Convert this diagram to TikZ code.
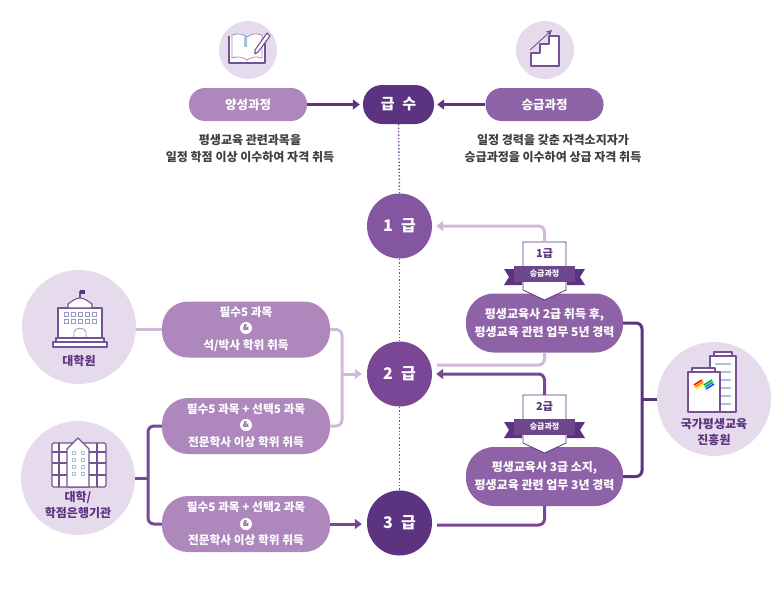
\documentclass[tikz,border=0pt]{standalone}
\usepackage{fontspec}
\setmainfont{Noto Sans CJK KR}
\newfontfamily\gradefont[WordSpace = 2.2]{Noto Sans CJK KR}
\usetikzlibrary{arrows.meta}
\definecolor{palecircle}{HTML}{E6DBEC}
\definecolor{softpill}{HTML}{AE87BC}
\definecolor{midpill}{HTML}{8E62A6}
\definecolor{gradeone}{HTML}{8455A0}
\definecolor{gradetwo}{HTML}{7A4796}
\definecolor{deeppurple}{HTML}{5C3380}
\definecolor{lightline}{HTML}{D2B9DC}
\definecolor{iconblue}{HTML}{A9C3DE}
\tikzset{
    softpillnode/.style = {fill = softpill, text = white, rounded corners = 26pt, minimum width = 168pt, minimum height = 56pt, inner sep = 0pt, align = center, font = \fontsize{11.7}{16.6}\bfseries\selectfont},
    topnode/.style = {fill = softpill, text = white, rounded corners = 16pt, minimum width = 118pt, minimum height = 33pt, inner sep = 0pt, font = \fontsize{12.5}{14}\bfseries\selectfont},
    careernode/.style = {fill = midpill, text = white, rounded corners = 28pt, minimum width = 157pt, minimum height = 59pt, inner sep = 0pt, align = center, font = \fontsize{12}{18}\bfseries\selectfont},
    gradenode/.style = {circle, text = white, minimum size = 65pt, inner sep = 0pt, font = \gradefont\fontsize{16}{18}\bfseries\selectfont},
    palenode/.style = {circle, fill = palecircle, inner sep = 0pt},
    bodytext/.style = {text = black!75, align = center, inner sep = 0pt, font = \fontsize{12}{17}\bfseries\selectfont},
    placetext/.style = {text = deeppurple, align = center, inner sep = 0pt, font = \fontsize{12}{16}\bfseries\selectfont},
    ampnode/.style = {circle, fill = white, text = softpill!60!deeppurple, minimum size = 12pt, inner sep = 0pt, font = \fontsize{8}{8}\bfseries\selectfont},
    badgetext/.style = {text = deeppurple, minimum width = 43pt, minimum height = 24pt, inner sep = 0pt, font = \fontsize{11}{12}\bfseries\selectfont},
    ribbonnode/.style = {fill = deeppurple!90!white, text = white, minimum width = 61pt, minimum height = 16pt, inner sep = 0pt, font = \fontsize{8}{9}\bfseries\selectfont},
    link/.style = {line width = 3pt, rounded corners = 6pt},
    linkarrow/.style = {link, -{Triangle[length = 7pt, width = 10pt]}},
    iconline/.style = {draw = deeppurple!85!white, line width = 1.1pt, line join = round}
}
\begin{document}
\begin{tikzpicture}[x = 1pt, y = -1pt]
    \useasboundingbox (0, 0) rectangle (783, 594);

    \node (iconBook) at (248, 50) [palenode, minimum size = 58pt] {};
    \node (iconStair) at (545, 50) [palenode, minimum size = 58pt] {};
    \node (gradSchool) at (79, 327) [palenode, minimum size = 114pt] {};
    \node (college) at (78, 478) [palenode, minimum size = 114pt] {};
    \node (institute) at (714, 399) [palenode, minimum size = 114pt] {};

    \node (training) at (248, 104.5) [topnode] {양성과정};
    \node (promotion) at (544.5, 104.5) [topnode, fill = midpill] {승급과정};
    \node (grade) at (398.5, 104.5) [topnode, fill = deeppurple, minimum width = 71pt, minimum height = 39pt, rounded corners = 19pt, font = \gradefont\fontsize{15}{17}\bfseries\selectfont] {급 수};
    \node (trainingText) at (250, 148.5) [bodytext] {평생교육 관련과목을\\일정 학점 이상 이수하여 자격 취득};
    \node (promotionText) at (553, 148.5) [bodytext] {일정 경력을 갖춘 자격소지자가\\승급과정을 이수하여 상급 자격 취득};

    \node (gradeA) at (399.5, 226) [gradenode, fill = gradeone] {1 급};
    \node (gradeB) at (399.5, 374) [gradenode, fill = gradetwo] {2 급};
    \node (gradeC) at (399.5, 523) [gradenode, fill = deeppurple] {3 급};

    \draw[gradetwo, line width = 1.4pt, dotted] (grade.south) -- (gradeA.north);
    \draw[gradetwo, line width = 1.4pt, dotted] (gradeA.south) -- (gradeB.north);
    \draw[gradetwo, line width = 1.4pt, dotted] (gradeB.south) -- (gradeC.north);

    \node (courseA) at (246, 329.5) [softpillnode] {필수5 과목\\~\\석/박사 학위 취득};
    \node (courseB) at (246, 426) [softpillnode] {필수5 과목 + 선택5 과목\\~\\전문학사 이상 학위 취득};
    \node (courseC) at (246, 524) [softpillnode] {필수5 과목 + 선택2 과목\\~\\전문학사 이상 학위 취득};
    \node (ampA) at (246, 328) [ampnode] {\&};
    \node (ampB) at (246, 425) [ampnode] {\&};
    \node (ampC) at (246, 524) [ampnode] {\&};
    \node (careerA) at (544.5, 323) [careernode] {평생교육사 2급 취득 후,\\평생교육 관련 업무 5년 경력};
    \node (careerB) at (544.5, 476.5) [careernode] {평생교육사 3급 소지,\\평생교육 관련 업무 3년 경력};

    \coordinate (jointSoft) at (342, 374);
    \coordinate (jointCollege) at (148, 478);
    \coordinate (jointInstitute) at (642, 399);

    \draw[linkarrow, deeppurple] (training.east) -- ([xshift = -3pt]grade.west);
    \draw[linkarrow, deeppurple] (promotion.west) -- ([xshift = 3pt]grade.east);
    \draw[link, lightline] (gradSchool.east |- courseA.west) -- (courseA.west);
    \draw[link, lightline] (courseA.east) -| (jointSoft) |- (courseB.east);
    \draw[linkarrow, lightline] (jointSoft) -- ([xshift = -5pt]gradeB.west);
    \draw[link, gradetwo] (college.east) -- (jointCollege);
    \draw[link, gradetwo] (courseB.west) -| (jointCollege) |- (courseC.west);
    \draw[linkarrow, gradetwo] (courseC.east) -- ([xshift = -5pt]gradeC.west |- courseC.east);
    \draw[link, deeppurple] (careerA.east) -| (jointInstitute) |- (careerB.east);
    \draw[link, deeppurple] (jointInstitute) -- (institute.west);
    \draw[link, lightline] (careerA.south) |- ([shift = {(5pt, 9pt)}]gradeB.east);
    \draw[link, gradetwo] (careerB.south) |- ([shift = {(5pt, -2pt)}]gradeC.east);

    \foreach \by/\tag/\nm in {242/1급/A, 395/2급/B} {
        \filldraw[draw = deeppurple, fill = white, thick] (523, \by) -- (566, \by) -- (566, \by + 48) -- (544.5, \by + 58) -- (523, \by + 48) -- cycle;
        \fill[deeppurple] (514, \by + 27) -- (504, \by + 27) -- (509, \by + 35) -- (504, \by + 43) -- (522, \by + 43) -- (522, \by + 40) -- (514, \by + 40) -- cycle;
        \fill[deeppurple] (575, \by + 27) -- (585, \by + 27) -- (580, \by + 35) -- (585, \by + 43) -- (567, \by + 43) -- (567, \by + 40) -- (575, \by + 40) -- cycle;
        \node (badge\nm) at (544.5, \by + 12) [badgetext] {\tag};
        \node (ribbon\nm) at (544.5, \by + 32) [ribbonnode] {승급과정};
    }
    \draw[linkarrow, lightline] (badgeA.north) |- ([xshift = 4pt]gradeA.east);
    \draw[linkarrow, gradetwo] (badgeB.north) |- ([xshift = 4pt]gradeB.east);

    % book
    \draw[iconline, fill = white] (229, 36) -- (229, 63) -- (265, 63) -- (265, 42);
    \draw[iconline, deeppurple!60!white, line width = .7pt, fill = white] (232, 35) .. controls (238, 33) and (243, 34) .. (247, 37) .. controls (251, 34) and (256, 33) .. (262, 35) -- (262, 58) .. controls (256, 56) and (251, 57) .. (247, 60) .. controls (243, 57) and (238, 56) .. (232, 58) -- cycle;
    \fill[iconblue] (244, 36) -- (247, 37) -- (247, 47) -- (244, 47) -- cycle;
    \draw[iconline, fill = white] (267, 33) -- (270, 36) -- (258, 52) -- (255, 54) -- (255, 50) -- cycle;

    % stairs
    \draw[iconline, fill = white] (531, 66) -- (531, 53) -- (540, 53) -- (540, 44) -- (549, 44) -- (549, 36) -- (559, 36) -- (559, 66) -- cycle;
    \draw[deeppurple!85!white, line width = .9pt, -{Stealth[length = 6pt, width = 6pt]}] (530, 50) -- (552, 30);

    % graduate school
    \draw[iconline, fill = white] (58, 308) rectangle (102, 338);
    \draw[iconline, fill = white] (53, 342) rectangle (107, 347);
    \draw[iconline, fill = white] (56, 338) rectangle (104, 342);
    \draw[iconline, fill = white] (68, 308) -- (68, 304) .. controls (72, 301) and (76, 298) .. (80, 298) .. controls (84, 298) and (88, 301) .. (92, 304) -- (92, 308) -- cycle;
    \draw[iconline] (80, 298) -- (80, 291);
    \fill[deeppurple] (80, 290) rectangle (85, 294);
    \foreach \wx in {64, 71, 78, 85, 92} {
        \draw[iconblue!70!deeppurple, line width = .7pt] (\wx, 312) rectangle +(4, 4);
        \draw[iconblue!70!deeppurple, line width = .7pt] (\wx, 319) rectangle +(4, 4);
    }
    \draw[iconblue!70!deeppurple, line width = .8pt] (74, 337) -- (74, 332) .. controls (74, 327) and (86, 327) .. (86, 332) -- (86, 337);
    \node (gradSchoolText) at (79, 361) [placetext] {대학원};

    % college
    \draw[iconline, fill = white, rounded corners = 1.5pt] (52, 443) rectangle (106, 487);
    \foreach \gx in {59, 97} {
        \draw[iconline] (\gx, 443) -- (\gx, 487);
    }
    \foreach \gy in {452, 463, 475} {
        \draw[iconline] (52, \gy) -- (106, \gy);
    }
    \draw[iconline, fill = white] (67, 487) -- (67, 449) -- (78, 438) -- (89, 449) -- (89, 487) -- cycle;
    \foreach \wy in {451, 458, 465, 472} {
        \draw[iconblue, line width = .8pt] (72, \wy) rectangle +(3, 3);
        \draw[iconblue, line width = .8pt] (81, \wy) rectangle +(3, 3);
    }
    \node (collegeText) at (78, 505) [placetext] {대학/\\학점은행기관};

    % institute
    \draw[iconline, fill = white] (714, 352) rectangle (732, 356);
    \draw[iconline, fill = white] (710, 356) rectangle (736, 412);
    \foreach \ly in {364, 372, 380, 388, 396, 404} {
        \draw[iconblue, line width = 1.2pt] (715, \ly) -- (731, \ly);
    }
    \draw[iconline, fill = white] (692, 368) rectangle (715, 372);
    \draw[iconline, fill = white] (688, 372) rectangle (720, 412);
    \foreach \sx/\sy/\col in {694/385/red, 695/387/orange, 696/389/yellow, 704/385/green!70!black, 705/387/teal!80!cyan, 706/389/blue!70!cyan} {
        \draw[\col, line width = 1.6pt] (\sx, \sy) -- (\sx + 8, \sy - 5);
    }
    \node (instituteText) at (714, 432) [placetext] {국가평생교육\\진흥원};
\end{tikzpicture}
\end{document}
